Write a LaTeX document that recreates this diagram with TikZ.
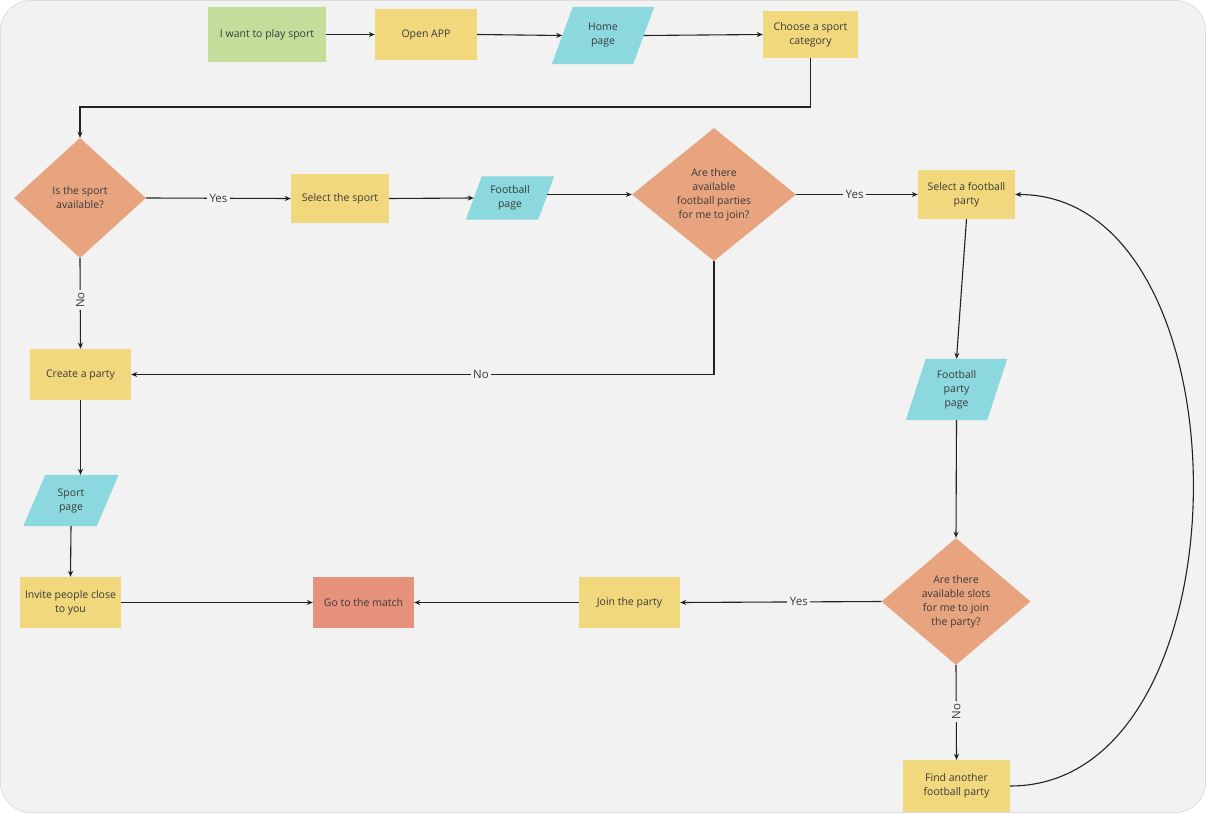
\documentclass[tikz,border=0pt]{standalone}
\usepackage{fontspec}
\setmainfont{Open Sans}
\usetikzlibrary{shapes.geometric,arrows.meta,backgrounds}
\definecolor{bgc}{HTML}{F2F2F2}
\definecolor{bgline}{HTML}{DDDDDD}
\definecolor{cgreen}{HTML}{C3DE9B}
\definecolor{cyellow}{HTML}{F2D87C}
\definecolor{ccyan}{HTML}{8BD9DE}
\definecolor{cdiam}{HTML}{E8A47E}
\definecolor{cred}{HTML}{E6917B}
\definecolor{ctext}{HTML}{3A3A3A}
\definecolor{cline}{HTML}{222222}
\tikzset{
  base/.style={font=\fontsize{10.5}{14}\selectfont, text=ctext, align=center, inner sep=0pt},
  box/.style={base, rectangle, fill=#1},
  diam/.style={base, diamond, fill=cdiam},
  para/.style={base, rectangle},
  arr/.style={draw=cline, line width=1.1pt, -{Stealth[length=6pt,width=5pt]}},
  lab/.style={base, font=\fontsize{11.5}{14}\selectfont, fill=bgc, inner sep=2.5pt, text=ctext}
}
\newcommand{\paral}[2]{%
  \begin{pgfonlayer}{background}
  \fill[ccyan] ([xshift=#2]#1.north west) -- ([xshift=#2]#1.north east) -- ([xshift=-#2]#1.south east) -- ([xshift=-#2]#1.south west) -- cycle;
  \end{pgfonlayer}}
\pgfdeclarelayer{bglayer}
\pgfsetlayers{bglayer,background,main}
\begin{document}
\begin{tikzpicture}[x=1pt,y=-1pt]
\useasboundingbox (0,0) rectangle (1206,813);
\begin{pgfonlayer}{bglayer}
\filldraw[fill=bgc, draw=bgline, line width=0.8pt, rounded corners=30pt] (0.5,0.5) rectangle (1205.5,812.5);
\end{pgfonlayer}

% top row
\node[box=cgreen, minimum width=118pt, minimum height=55pt] (start) at (267,34.5) {I want to play sport};
\node[box=cyellow, minimum width=102pt, minimum height=51pt] (open) at (426,34.5) {Open APP};
\node[para, minimum width=81pt, minimum height=57pt] (home) at (603,35.5) {Home\\page};
\paral{home}{10.5pt}
\node[box=cyellow, minimum width=95pt, minimum height=47pt] (choose) at (810.5,34.5) {Choose a sport\\category};

% second row
\node[diam, aspect=1.1, minimum width=132pt, minimum height=120pt] (d1) at (80,198) {Is the sport\\available?};
\node[box=cyellow, minimum width=98pt, minimum height=49pt] (sel) at (340,198.5) {Select the sport};
\node[para, minimum width=72pt, minimum height=43pt] (fpage) at (510,198) {Football\\page};
\paral{fpage}{8pt}
\node[diam, aspect=1.233, minimum width=164pt, minimum height=133pt] (d2) at (714,194.5) {Are there\\available\\football parties\\for me to join?};
\node[box=cyellow, minimum width=97pt, minimum height=49pt] (sfp) at (966.5,194.5) {Select a football\\party};

% left column
\node[box=cyellow, minimum width=101pt, minimum height=51pt] (create) at (80.5,374.5) {Create a party};
\node[para, minimum width=73pt, minimum height=51pt] (sport) at (71,500.5) {Sport\\page};
\paral{sport}{11pt}
\node[box=cyellow, minimum width=101pt, minimum height=51pt] (invite) at (70.5,602.5) {Invite people close\\to you};
\node[box=cred, minimum width=101pt, minimum height=51pt] (go) at (363.5,602.5) {Go to the match};
\node[box=cyellow, minimum width=101pt, minimum height=51pt] (join) at (629.5,602.5) {Join the party};

% right column
\node[para, minimum width=81pt, minimum height=61pt] (fpp) at (956.5,389.5) {Football\\party\\page};
\paral{fpp}{10pt}
\node[diam, aspect=1.173, minimum width=149pt, minimum height=127pt] (d3) at (956,601.5) {Are there\\available slots\\for me to join\\the party?};
\node[box=cyellow, minimum width=107pt, minimum height=52pt] (find) at (956.5,786) {Find another\\football party};

\coordinate (t1) at (0,107);
\coordinate (c1) at (1253,786);
\coordinate (c2) at (1253,194);

% connectors
\draw[arr] (start.east) -- (open.west);
\draw[arr] (open.east) -- (home.west);
\draw[arr] (home.east) -- (choose.west);
\draw[arr] (choose.south) -- (choose.south |- t1) -| (d1.north);
\draw[arr] (d1.east) -- node[lab]{Yes} (sel.west);
\draw[arr] (sel.east) -- (fpage.west);
\draw[arr] ([xshift=1pt]fpage.east |- d2.west) -- (d2.west);
\draw[arr] (d2.east) -- node[lab, pos=0.48]{Yes} (sfp.west);
\draw[arr] (d2.south) |- node[lab, pos=0.7]{No} (create.east);
\draw[arr] (d1.south) -- node[lab, pos=0.46, rotate=90]{No} (create.north);
\draw[arr] (create.south) -- (sport.north -| create.south);
\draw[arr] (sport.south) -- (invite.north);
\draw[arr] (invite.east) -- (go.west);
\draw[arr] (join.west) -- (go.east);
\draw[arr] (d3.west) -- node[lab, pos=0.41]{Yes} (join.east);
\draw[arr] (sfp.south) -- (fpp.north);
\draw[arr] (fpp.south) -- (d3.north);
\draw[arr] (d3.south) -- node[lab, pos=0.49, rotate=90]{No} (find.north);
\draw[arr] (find.east) .. controls (c1) and (c2) .. (sfp.east);
\end{tikzpicture}
\end{document}
